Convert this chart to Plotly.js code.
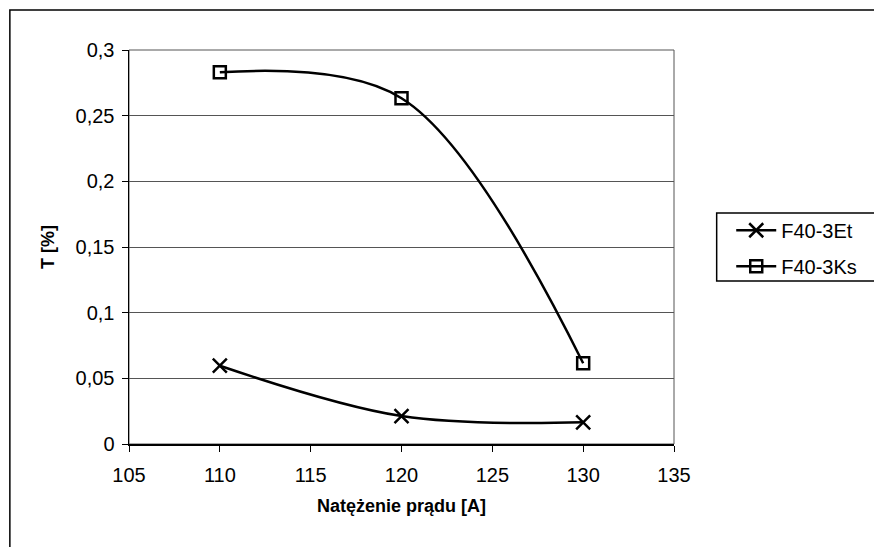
<!DOCTYPE html>
<html>
<head>
<meta charset="utf-8">
<script src="https://cdn.plot.ly/plotly-3.0.1.min.js"></script>
<style>
html,body{margin:0;padding:0;background:#fff;}
#chart{width:874px;height:547px;}
</style>
</head>
<body>
<div id="chart"></div>
<script>
// Data
var current = [110, 120, 130];
var seriesEt = [0.0596, 0.0213, 0.0165];
var seriesKs = [0.283, 0.2633, 0.0615];
var seriesNames = ['F40-3Et', 'F40-3Ks'];
var yTickVals = [0, 0.05, 0.1, 0.15, 0.2, 0.25, 0.3];
var yTickText = ['0', '0,05', '0,1', '0,15', '0,2', '0,25', '0,3'];
var xTickVals = [105, 110, 115, 120, 125, 130, 135];
var xTickText = ['105', '110', '115', '120', '125', '130', '135'];

var FONT = '"Liberation Sans", Arial, sans-serif';

var traces = [
  {
    x: current, y: seriesEt, name: seriesNames[0], type: 'scatter', mode: 'lines+markers',
    line: {color: '#000', width: 2.5, shape: 'spline', smoothing: 1},
    marker: {symbol: 'x-thin-open', size: 14, color: '#000', line: {color: '#000', width: 2.5}},
    legendgroup: 'a'
  },
  {
    x: current, y: seriesKs, name: seriesNames[1], type: 'scatter', mode: 'lines+markers',
    line: {color: '#000', width: 2.5, shape: 'spline', smoothing: 1},
    marker: {symbol: 'square-open', size: 12, color: '#000', line: {color: '#000', width: 2.5}},
    legendgroup: 'b'
  }
];

var layout = {
  width: 874, height: 547,
  margin: {l: 129, r: 196, t: 50, b: 103},
  paper_bgcolor: '#fff', plot_bgcolor: '#fff',
  separators: ', ',
  font: {family: FONT, size: 20, color: '#000'},
  showlegend: true,
  legend: {
    x: 1.105, xanchor: 'left', y: 0.592, yanchor: 'top',
    bgcolor: 'rgba(0,0,0,0)', borderwidth: 0,
    font: {family: FONT, size: 20, color: '#000'},
    tracegroupgap: 7, itemwidth: 40
  },
  xaxis: {
    range: [105, 135], tickvals: xTickVals, ticktext: xTickText,
    showgrid: false, zeroline: false,
    showline: true, linecolor: '#000', linewidth: 1.5,
    ticks: 'outside', ticklen: 6, tickcolor: '#000', tickwidth: 1,
    tickfont: {family: FONT, size: 20, color: '#000'},
    ticklabelstandoff: 6,
    title: {text: 'Natężenie prądu [A]', font: {family: FONT, size: 18, color: '#000', weight: 'bold'}, standoff: 15},
    automargin: false, fixedrange: true
  },
  yaxis: {
    range: [0, 0.3], tickvals: yTickVals, ticktext: yTickText,
    showgrid: true, gridcolor: '#555', gridwidth: 1, zeroline: false,
    showline: true, linecolor: '#000', linewidth: 1.5,
    ticks: 'outside', ticklen: 6, tickcolor: '#000', tickwidth: 1,
    tickfont: {family: FONT, size: 20, color: '#000'},
    ticklabelstandoff: 3,
    title: {text: 'T [%]', font: {family: FONT, size: 18, color: '#000', weight: 'bold'}, standoff: 16},
    automargin: false, fixedrange: true
  },
  shapes: [
    {type: 'rect', xref: 'paper', yref: 'paper', x0: -0.2186, x1: 1.6, y0: -0.4, y1: 1.1015,
     line: {color: '#000', width: 1.5}, fillcolor: 'rgba(0,0,0,0)', layer: 'below'},
    {type: 'rect', xref: 'paper', yref: 'paper', x0: 0, x1: 1, y0: 0, y1: 1,
     line: {color: '#555', width: 1}, fillcolor: 'rgba(0,0,0,0)', layer: 'below'},
    {type: 'rect', xref: 'paper', yref: 'paper', x0: 1.0783, x1: 1.6, y0: 0.4137, y1: 0.5863,
     line: {color: '#000', width: 1.5}, fillcolor: 'rgba(0,0,0,0)', layer: 'below'}
  ]
};

Plotly.newPlot('chart', traces, layout, {staticPlot: true, displayModeBar: false});
</script>
</body>
</html>
